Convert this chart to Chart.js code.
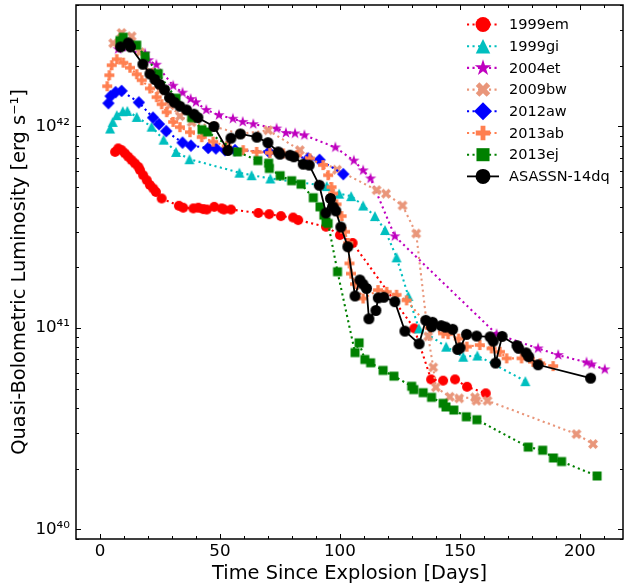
<!DOCTYPE html>
<html>
<head>
    <title>Quasi-Bolometric Light Curves</title>
    <style>
        body {
            margin: 0;
            padding: 0;
            background-color: white;
        }
        .chart-container {
            width: 624px;
            height: 587px;
        }
    </style>
    <script src="https://cdn.jsdelivr.net/npm/chart.js@4.4.1/dist/chart.umd.min.js"></script>
</head>
<body>
    <div class="chart-container">
        <canvas id="lcChart" width="624" height="587"></canvas>
    </div>

    <script>
        // Days since explosion and luminosity (units of 1e41 erg/s)
        const days_1999em = [6.3, 7.6, 9.0, 10.4, 11.8, 13.2, 14.6, 16.0, 16.7, 18.0, 19.5, 20.8, 22.2, 23.3, 25.7, 32.9, 34.7, 38.9, 41.0, 43.0, 44.5, 47.6, 50.7, 51.7, 54.6, 66.0, 70.5, 75.4, 80.5, 82.6, 94.2, 100.0, 105.3, 131.0, 138.0, 143.0, 148.0, 153.0, 160.8];
        const lum_1999em = [7.48, 7.78, 7.63, 7.35, 7.07, 6.80, 6.55, 6.30, 6.07, 5.73, 5.41, 5.12, 4.92, 4.73, 4.39, 4.04, 3.95, 3.92, 3.95, 3.89, 3.87, 3.99, 3.92, 3.87, 3.87, 3.72, 3.67, 3.59, 3.53, 3.43, 3.18, 2.89, 2.64, 0.994, 0.555, 0.547, 0.555, 0.510, 0.473];

        const days_1999gi = [4.2, 5.3, 7.0, 9.5, 11.4, 15.3, 21.5, 26.5, 31.7, 37.3, 58.1, 63.2, 71.0, 94.5, 99.7, 104.7, 109.7, 114.6, 118.8, 123.6, 128.5, 132.9, 144.3, 151.4, 157.3, 177.3];
        const lum_1999gi = [9.77, 10.54, 11.38, 11.91, 11.95, 11.16, 9.98, 8.60, 7.48, 6.88, 5.90, 5.73, 5.52, 5.06, 4.64, 4.51, 4.05, 3.59, 3.06, 2.24, 1.44, 0.994, 0.807, 0.719, 0.729, 0.544];

        const days_2004et = [7.6, 18.8, 20.2, 23.5, 30.5, 34.4, 37.8, 40.0, 44.3, 49.6, 55.4, 59.5, 63.9, 73.6, 77.5, 81.3, 85.2, 98.1, 105.8, 109.7, 112.8, 122.9, 165.3, 182.6, 191.0, 202.8, 204.9, 210.4];
        const lum_2004et = [24.19, 23.03, 21.33, 20.26, 15.94, 14.72, 13.69, 13.20, 12.09, 11.38, 10.93, 10.54, 10.27, 9.77, 9.29, 9.23, 9.05, 7.87, 6.77, 6.05, 5.52, 2.85, 0.931, 0.791, 0.733, 0.674, 0.659, 0.622];

        const days_2009bw = [5.5, 9.0, 13.2, 16.7, 20.8, 25.0, 29.2, 33.3, 38.2, 47.5, 58.5, 70.1, 83.3, 98.8, 115.3, 119.2, 126.1, 131.8, 136.8, 138.9, 140.0, 145.8, 149.7, 156.3, 156.9, 161.5, 198.6, 205.5];
        const lum_2009bw = [25.91, 29.14, 28.05, 23.38, 18.60, 15.14, 12.75, 11.25, 10.50, 10.0, 9.18, 9.58, 7.63, 6.10, 4.83, 4.64, 4.05, 2.94, 0.908, 0.637, 0.507, 0.455, 0.447, 0.452, 0.435, 0.435, 0.297, 0.265];

        const days_2012aw = [3.5, 4.4, 6.5, 9.0, 16.2, 22.1, 24.6, 27.6, 34.4, 37.9, 45.1, 48.3, 52.1, 56.3, 70.4, 86.8, 91.5, 101.4];
        const lum_2012aw = [13.05, 14.14, 14.80, 15.02, 13.17, 11.06, 10.27, 9.48, 8.31, 8.03, 7.82, 7.78, 7.63, 7.63, 7.48, 6.94, 6.83, 5.80];

        const days_2013ab = [3.0, 3.9, 4.9, 7.0, 9.7, 12.5, 15.3, 17.4, 20.8, 23.6, 25.7, 27.8, 30.5, 33.3, 37.5, 42.4, 47.2, 52.8, 59.7, 65.3, 70.8, 76.4, 82.0, 87.5, 93.0, 95.1, 96.5, 97.2, 98.6, 100.7, 102.1, 103.5, 104.0, 104.6, 106.3, 109.7, 115.9, 119.5, 123.6, 127.8, 137.5, 143.0, 145.1, 149.5, 152.9, 158.3, 163.2, 166.7, 169.5, 175.7, 180.5, 183.5, 188.9];
        const lum_2013ab = [15.85, 17.97, 20.15, 21.58, 20.74, 19.58, 18.18, 16.97, 15.44, 13.98, 12.90, 11.78, 10.54, 9.92, 9.37, 8.85, 8.41, 7.98, 7.63, 7.48, 7.40, 7.35, 7.20, 6.94, 6.43, 5.73, 5.00, 4.65, 4.11, 3.59, 3.00, 2.64, 2.09, 1.86, 1.65, 1.40, 1.54, 1.51, 1.46, 1.37, 1.00, 0.939, 0.931, 0.885, 0.807, 0.822, 0.791, 0.761, 0.706, 0.706, 0.679, 0.667, 0.646];

        const days_2013ej = [8.3, 9.7, 15.3, 18.8, 24.3, 31.7, 38.2, 42.5, 44.8, 57.3, 65.8, 70.3, 70.6, 75.1, 79.9, 83.8, 88.9, 91.7, 93.3, 94.2, 95.1, 99.0, 106.3, 108.0, 110.4, 112.8, 118.0, 122.5, 129.9, 130.8, 134.7, 138.2, 143.0, 144.2, 147.5, 152.7, 157.1, 178.5, 184.5, 189.0, 192.4, 207.2];
        const lum_2013ej = [26.72, 27.75, 25.33, 22.33, 18.32, 13.82, 11.06, 9.64, 9.40, 7.48, 6.77, 6.57, 6.19, 5.70, 5.38, 5.17, 4.43, 3.99, 3.63, 3.36, 3.30, 1.90, 0.754, 0.843, 0.697, 0.671, 0.615, 0.576, 0.513, 0.494, 0.477, 0.452, 0.422, 0.405, 0.391, 0.362, 0.350, 0.256, 0.247, 0.226, 0.217, 0.184];

        const days_14dq = [8.6, 11.8, 12.7, 17.9, 20.8, 22.9, 24.8, 26.9, 29.0, 31.0, 33.3, 36.1, 39.2, 40.8, 47.5, 53.3, 54.6, 58.5, 65.4, 70.0, 74.3, 75.0, 79.2, 80.8, 84.7, 87.2, 91.4, 94.2, 96.1, 97.2, 98.3, 100.4, 103.3, 106.3, 108.3, 109.6, 111.1, 112.1, 115.0, 116.0, 118.3, 122.9, 127.1, 133.0, 135.8, 138.2, 138.6, 142.2, 144.0, 147.0, 149.1, 150.1, 152.8, 157.0, 162.6, 163.9, 164.9, 167.6, 173.8, 174.5, 177.6, 178.7, 182.6, 204.5];
        const lum_14dq = [24.83, 25.99, 24.83, 20.38, 18.24, 17.12, 16.22, 15.22, 13.90, 13.20, 12.61, 12.09, 11.51, 11.06, 10.0, 7.60, 8.75, 9.18, 8.85, 8.31, 7.48, 7.29, 7.20, 7.07, 6.50, 6.43, 5.11, 3.72, 4.39, 3.99, 3.81, 3.17, 2.53, 1.44, 1.73, 1.65, 1.57, 1.11, 1.22, 1.41, 1.42, 1.35, 0.964, 0.834, 1.09, 1.013, 1.066, 1.026, 1.009, 0.984, 0.782, 0.796, 0.929, 0.911, 0.903, 0.860, 0.669, 0.907, 0.817, 0.792, 0.752, 0.719, 0.656, 0.563];

        const snNames = ['1999em', '1999gi', '2004et', '2009bw', '2012aw', '2013ab', '2013ej', 'ASASSN-14dq'];
        const snColors = ['#ff0000', '#00bfbf', '#bf00bf', '#e9967a', '#0000ff', '#ff7f50', '#008000', '#000000'];
        const snMarkers = ['circle', 'triangle', 'star', 'xfill', 'diamond', 'plusfill', 'square', 'circle'];
        const snDays = [days_1999em, days_1999gi, days_2004et, days_2009bw, days_2012aw, days_2013ab, days_2013ej, days_14dq];
        const snLum = [lum_1999em, lum_1999gi, lum_2004et, lum_2009bw, lum_2012aw, lum_2013ab, lum_2013ej, lum_14dq];

        const xTickValues = [0, 50, 100, 150, 200];
        const yTickValues = [1e40, 1e41, 1e42];

        const FONT = 'DejaVu Sans';

        // marker outlines, same shapes as the matplotlib ones
        function polygon(ctx, pts, x, y, s) {
            pts.forEach((p, i) => {
                const px = x + p[0] * s, py = y - p[1] * s;
                if (i === 0) ctx.moveTo(px, py); else ctx.lineTo(px, py);
            });
            ctx.closePath();
        }

        function drawShape(ctx, shape, x, y, s) {
            const r = s / 2;
            ctx.beginPath();
            if (shape === 'circle') {
                ctx.arc(x, y, r, 0, Math.PI * 2);
            } else if (shape === 'triangle') {
                polygon(ctx, [[0, 0.5], [-0.5, -0.5], [0.5, -0.5]], x, y, s);
            } else if (shape === 'square') {
                ctx.rect(x - r * 0.9, y - r * 0.9, s * 0.9, s * 0.9);
            } else if (shape === 'diamond') {
                polygon(ctx, [[0, 0.62], [0.62, 0], [0, -0.62], [-0.62, 0]], x, y, s);
            } else if (shape === 'star') {
                const pts = [];
                for (let k = 0; k < 10; k++) {
                    const rr = k % 2 === 0 ? 0.6 : 0.6 * 0.381966;
                    const a = Math.PI / 2 + k * Math.PI / 5;
                    pts.push([rr * Math.cos(a), rr * Math.sin(a)]);
                }
                polygon(ctx, pts, x, y, s);
            } else if (shape === 'plusfill') {
                const p = [[-1, -3], [1, -3], [1, -1], [3, -1], [3, 1], [1, 1], [1, 3], [-1, 3], [-1, 1], [-3, 1], [-3, -1], [-1, -1]];
                polygon(ctx, p.map(q => [q[0] / 6, q[1] / 6]), x, y, s);
            } else if (shape === 'xfill') {
                const p = [[-1, -2], [0, -1], [1, -2], [2, -1], [1, 0], [2, 1], [1, 2], [0, 1], [-1, 2], [-2, 1], [-1, 0], [-2, -1]];
                polygon(ctx, p.map(q => [q[0] / 4, q[1] / 4]), x, y, s);
            }
        }

        function markerCanvas(shape, color, s) {
            const dim = Math.ceil(s + 4);
            const c = document.createElement('canvas');
            c.width = dim;
            c.height = dim;
            const g = c.getContext('2d');
            g.fillStyle = color;
            drawShape(g, shape, dim / 2, dim / 2, s);
            g.fill();
            return c;
        }

        const supDigits = {'0': '\u2070', '1': '\u00b9', '2': '\u00b2', '3': '\u00b3', '4': '\u2074', '5': '\u2075', '6': '\u2076', '7': '\u2077', '8': '\u2078', '9': '\u2079'};
        function powerLabel(v) {
            const e = String(Math.round(Math.log10(v)));
            return '10' + e.split('').map(d => supDigits[d]).join('');
        }

        // no label-overflow padding, so the plot box fills the canvas like the original
        function noPadding(s) {
            s.paddingLeft = 0;
            s.paddingRight = 0;
            s.paddingTop = 0;
            s.paddingBottom = 0;
        }

        // inward ticks on all four sides plus the frame
        const axesFrame = {
            id: 'axesFrame',
            afterDatasetsDraw(chart) {
                const {ctx, chartArea: a, scales: {x, y}} = chart;
                ctx.save();
                ctx.strokeStyle = '#000';
                ctx.lineWidth = 1;
                ctx.beginPath();
                for (let v = 0; v <= x.max; v += 10) {
                    const px = Math.round(x.getPixelForValue(v)) + 0.5;
                    const len = v % 50 === 0 ? 5 : 3;
                    ctx.moveTo(px, a.bottom); ctx.lineTo(px, a.bottom - len);
                    ctx.moveTo(px, a.top); ctx.lineTo(px, a.top + len);
                }
                for (let e = 39; e <= 42; e++) {
                    for (let k = 1; k <= 9; k++) {
                        const v = k * Math.pow(10, e);
                        if (v < y.min || v > y.max) continue;
                        const py = Math.round(y.getPixelForValue(v)) + 0.5;
                        const len = k === 1 ? 5 : 3;
                        ctx.moveTo(a.left, py); ctx.lineTo(a.left + len, py);
                        ctx.moveTo(a.right, py); ctx.lineTo(a.right - len, py);
                    }
                }
                ctx.stroke();
                ctx.lineWidth = 1.5;
                ctx.strokeRect(a.left, a.top, a.right - a.left, a.bottom - a.top);
                ctx.restore();
            }
        };

        // matplotlib-like legend in the upper right corner
        const cornerLegend = {
            id: 'cornerLegend',
            afterDraw(chart) {
                const {ctx, chartArea: a} = chart;
                const x0 = a.right - 156;
                chart.data.datasets.forEach((ds, i) => {
                    const yy = a.top + 19.5 + i * 21.7;
                    ctx.save();
                    ctx.strokeStyle = ds.borderColor;
                    ctx.lineWidth = ds.borderWidth;
                    ctx.setLineDash(ds.borderDash);
                    ctx.beginPath();
                    ctx.moveTo(x0, yy);
                    ctx.lineTo(x0 + 32, yy);
                    ctx.stroke();
                    ctx.setLineDash([]);
                    ctx.fillStyle = ds.borderColor;
                    drawShape(ctx, snMarkers[i], x0 + 16, yy, snMarkers[i] === 'circle' ? 15 : 14.5);
                    ctx.fill();
                    ctx.fillStyle = '#000';
                    ctx.font = '14.5px "' + FONT + '"';
                    ctx.textBaseline = 'middle';
                    ctx.fillText(ds.label, x0 + 42, yy + 1);
                    ctx.restore();
                });
            }
        };

        document.addEventListener('DOMContentLoaded', function() {
            Chart.defaults.font.family = FONT;
            Chart.defaults.color = '#000';

            const datasets = snNames.map((name, i) => {
                const isRef = name === 'ASASSN-14dq';
                return {
                    label: name,
                    data: snDays[i].map((d, j) => ({x: d, y: snLum[i][j] * 1e41})),
                    borderColor: snColors[i],
                    backgroundColor: snColors[i],
                    borderWidth: isRef ? 1.8 : 2.1,
                    borderDash: isRef ? [] : [2.1, 3.4],
                    pointStyle: markerCanvas(snMarkers[i], snColors[i], isRef ? 11 : 10),
                    pointRadius: 5,
                    tension: 0,
                    order: snNames.length - 1 - i
                };
            });

            new Chart(document.getElementById('lcChart'), {
                type: 'line',
                data: {datasets: datasets},
                options: {
                    responsive: false,
                    animation: false,
                    devicePixelRatio: 1,
                    layout: {autoPadding: false, padding: {left: 0, right: 1, top: 5, bottom: 0}},
                    plugins: {
                        legend: {display: false},
                        tooltip: {enabled: false}
                    },
                    scales: {
                        x: {
                            type: 'linear',
                            min: -10,
                            max: 218,
                            grid: {display: false, drawTicks: false},
                            border: {display: false},
                            afterBuildTicks: s => { s.ticks = xTickValues.map(v => ({value: v})); },
                            afterFit: s => { s.height = 48; noPadding(s); },
                            ticks: {
                                autoSkip: false,
                                maxRotation: 0,
                                padding: 3,
                                font: {size: 16.7}
                            },
                            title: {
                                display: true,
                                text: 'Time Since Explosion [Days]',
                                font: {size: 19.4},
                                padding: {top: 0, bottom: 1.5}
                            }
                        },
                        y: {
                            type: 'logarithmic',
                            min: 8.95e39,
                            max: 4.01e42,
                            grid: {display: false, drawTicks: false},
                            border: {display: false},
                            afterBuildTicks: s => { s.ticks = yTickValues.map(v => ({value: v})); },
                            afterFit: s => { s.width = 76; noPadding(s); },
                            ticks: {
                                autoSkip: false,
                                padding: 6,
                                font: {size: 16.7},
                                callback: v => powerLabel(v)
                            },
                            title: {
                                display: true,
                                text: 'Quasi-Bolometric Luminosity [erg s\u207b\u00b9]',
                                font: {size: 19.4},
                                padding: {top: 8.4, bottom: 0}
                            }
                        }
                    }
                },
                plugins: [axesFrame, cornerLegend]
            });
        });
    </script>
</body>
</html>
